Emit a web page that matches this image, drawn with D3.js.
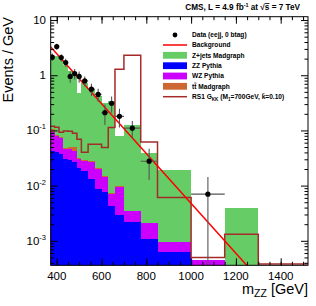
<!DOCTYPE html>
<html>
<head>
<meta charset="utf-8">
<script src="https://d3js.org/d3.v7.min.js"></script>
<style>
  body { margin: 0; background: #fff; }
  svg text { font-family: "Liberation Sans", Arial, Helvetica, sans-serif; fill: #000; }
</style>
</head>
<body>
<svg id="chart" width="316" height="306"></svg>
<script>
// histogram bin edges, GeV
var binEdges = [370, 390, 410, 430, 450, 470, 490, 510, 540, 570, 600, 630, 660, 700, 775, 850, 1000, 1150, 1300, 1520];

// MC backgrounds, events / GeV in each bin
var zzPythia = [0.0427, 0.0404, 0.0371, 0.0302, 0.029, 0.0263, 0.0207, 0.0183, 0.0131, 0.00865, 0.0076, 0.0043, 0.0029, 0.0022, 0.00108, 0.00062, 0.00031, 0.0002, 0];
var wzPythia = [0.0491, 0.0374, 0.0353, 0.0156, 0.0168, 0.0153, 0.0095, 0.0094, 0.0135, 0.0113, 0.0065, 0.0027, 0.0064, 0.0013, 0.001, 0.00035, 0.00013, 0.0001, 0];
var ttMadgraph = [0.013, 0.004, 0.004, 0.003, 0.004, 0.0088, 0.002, 0.002, 0.001, 0.001, 0.001, 0.0005, 0.0005, 0, 0, 0, 0, 0, 0];
var zjetsMadgraph = [2.015, 2.13, 1.79, 1.47, 1.15, 1.04, 0.454, 0.687, 0.53, 0.396, 0.296, 0.335, 0.069, 0.121, 0.0368, 0.0183, 0, 0.0036, 0];

// RS1 graviton signal
var rs1Signal = [0.119, 0.1145, 0.093, 0.098, 0.097, 0.089, 0.0695, 0.0404, 0.0564, 0.0564, 0.0491, 0.113, 1.284, 2.30, 0.062, 0.0061, 0.0005, 0.00132, 0.00038];

// data points
var dataMass  = [380, 400, 420, 440, 460, 480, 500, 525, 555, 585, 615, 645, 680, 737.5, 812.5, 1075];
var dataLo    = [370, 390, 410, 430, 450, 470, 490, 510, 540, 570, 600, 630, 660, 700, 775, 1000];
var dataHi    = [390, 410, 430, 450, 470, 490, 510, 540, 570, 600, 630, 660, 700, 775, 850, 1150];
var dataVal   = [2.14, 3.31, 2.09, 1.70, 0.95, 1.07, 0.95, 0.79, 0.56, 0.45, 0.21, 0.31, 0.18, 0.11, 0.0277, 0.0070];
var dataErrUp = [0.33, 0.41, 0.32, 0.29, 0.22, 0.23, 0.22, 0.16, 0.14, 0.12, 0.084, 0.10, 0.067, 0.038, 0.019, 0.0073];
var dataErrDn = [0.33, 0.41, 0.32, 0.29, 0.22, 0.23, 0.22, 0.16, 0.14, 0.12, 0.084, 0.10, 0.067, 0.038, 0.015, 0.0070];

// background fit line (end points)
var bgMass = [373, 1300];
var bgVal = [3.25, 0.00021];

var xTickVals = [400, 600, 800, 1000, 1200, 1400];
var yTickVals = [1e-3, 1e-2, 1e-1, 1, 10];
var yTickExp = ["-3", "-2", "-1", "", ""];

var svg = d3.select("#chart");
var pLeft = 50.7, pRight = 308, pTop = 16.7, pBottom = 265.3;

var x = d3.scaleLinear().domain([373, 1522]).range([pLeft, pRight]);
var y = d3.scaleLog().domain([3.6e-4, 11.5]).range([pBottom, pTop]);

function yc(v) { return v > 0 ? y(v) : pBottom + 5; }

svg.append("clipPath").attr("id", "plotclip")
  .append("rect").attr("x", pLeft).attr("y", pTop)
  .attr("width", pRight - pLeft).attr("height", pBottom - pTop);

var plot = svg.append("g").attr("clip-path", "url(#plotclip)");

// stacked backgrounds
var rows = binEdges.slice(0, -1).map(function(lo, i) {
  return { lo: lo, hi: binEdges[i + 1], zz: zzPythia[i], wz: wzPythia[i], tt: ttMadgraph[i], zjets: zjetsMadgraph[i] };
});
var keys = ["zz", "wz", "tt", "zjets"];
var colors = { zz: "#0000ff", wz: "#cc00ff", tt: "#cc6633", zjets: "#66cc66" };
var layers = d3.stack().keys(keys)(rows);

layers.slice().reverse().forEach(function(layer) {
  plot.append("g").selectAll("rect")
    .data(layer.filter(function(d) { return d[1] > 0; }))
    .enter().append("rect")
      .attr("x", function(d) { return x(d.data.lo); })
      .attr("width", function(d) { return x(d.data.hi) - x(d.data.lo); })
      .attr("y", function(d) { return y(d[1]); })
      .attr("height", function(d) { return Math.max(0, pBottom + 5 - y(d[1])); })
      .attr("fill", colors[layer.key])
      .attr("shape-rendering", "crispEdges");
});

// signal outline
var rsPts = [];
rs1Signal.forEach(function(v, i) {
  rsPts.push([x(binEdges[i]), yc(v)]);
  rsPts.push([x(binEdges[i + 1]), yc(v)]);
});
plot.append("path")
  .attr("d", d3.line()(rsPts))
  .attr("fill", "none")
  .attr("stroke", "#a52a2a")
  .attr("stroke-width", 1.5);

// background line
plot.append("path")
  .attr("d", d3.line()(bgMass.map(function(m, i) { return [x(m), y(bgVal[i])]; })))
  .attr("fill", "none")
  .attr("stroke", "#ff0000")
  .attr("stroke-width", 1.5);

// data with error bars
var pts = plot.append("g");
dataMass.forEach(function(m, i) {
  var lo = dataVal[i] - dataErrDn[i];
  pts.append("line")
    .attr("x1", x(m)).attr("x2", x(m))
    .attr("y1", y(dataVal[i] + dataErrUp[i]))
    .attr("y2", lo > 0 ? y(lo) : pBottom + 5)
    .attr("stroke", "#555").attr("stroke-width", 1.1);
  pts.append("line")
    .attr("x1", x(dataLo[i])).attr("x2", x(dataHi[i]))
    .attr("y1", y(dataVal[i])).attr("y2", y(dataVal[i]))
    .attr("stroke", "#555").attr("stroke-width", 1.1);
  pts.append("circle")
    .attr("cx", x(m)).attr("cy", y(dataVal[i])).attr("r", 2.6)
    .attr("fill", "#000");
});

// frame
svg.append("rect")
  .attr("x", pLeft).attr("y", pTop)
  .attr("width", pRight - pLeft).attr("height", pBottom - pTop)
  .attr("fill", "none").attr("stroke", "#000").attr("stroke-width", 1);

// ticks (inside, all four sides)
var xMinor = d3.range(400, 1521, 50);
var yMinor = [];
[-4, -3, -2, -1, 0, 1].forEach(function(e) {
  for (var k = 2; k <= 9; k++) {
    var v = k * Math.pow(10, e);
    if (v > 3.6e-4 && v < 11.5) yMinor.push(v);
  }
});

function tickAxis(axis, transform) {
  var g = svg.append("g").attr("transform", transform).call(axis);
  g.select(".domain").remove();
  g.selectAll("text").remove();
  g.selectAll("line").attr("stroke", "#000");
}
tickAxis(d3.axisBottom(x).tickValues(xMinor).tickSize(-3.5), "translate(0," + pBottom + ")");
tickAxis(d3.axisBottom(x).tickValues(xTickVals).tickSize(-7), "translate(0," + pBottom + ")");
tickAxis(d3.axisTop(x).tickValues(xMinor).tickSize(-3.5), "translate(0," + pTop + ")");
tickAxis(d3.axisTop(x).tickValues(xTickVals).tickSize(-7), "translate(0," + pTop + ")");
tickAxis(d3.axisLeft(y).tickValues(yMinor).tickSize(-3.5), "translate(" + pLeft + ",0)");
tickAxis(d3.axisLeft(y).tickValues(yTickVals).tickSize(-7), "translate(" + pLeft + ",0)");
tickAxis(d3.axisRight(y).tickValues(yMinor).tickSize(-3.5), "translate(" + pRight + ",0)");
tickAxis(d3.axisRight(y).tickValues(yTickVals).tickSize(-7), "translate(" + pRight + ",0)");

// tick labels
svg.append("g").selectAll("text")
  .data(xTickVals).enter().append("text")
    .attr("x", function(d) { return x(d); })
    .attr("y", 280)
    .attr("text-anchor", "middle")
    .attr("font-size", 11.5)
    .text(function(d) { return d; });

yTickVals.forEach(function(v, i) {
  var t = svg.append("text")
    .attr("x", 46).attr("y", y(v) + 4)
    .attr("text-anchor", "end")
    .attr("font-size", 11.5);
  if (yTickExp[i] === "") {
    t.text(v === 1 ? "1" : "10");
  } else {
    t.append("tspan").text("10");
    t.append("tspan").attr("font-size", 7.5).attr("dy", -5).text(yTickExp[i]);
  }
});

// axis titles
var xt = svg.append("text")
  .attr("x", 308).attr("y", 294)
  .attr("text-anchor", "end")
  .attr("font-size", 14.5);
xt.append("tspan").text("m");
xt.append("tspan").attr("font-size", 10.5).attr("dy", 3).text("ZZ");
xt.append("tspan").attr("dy", -3).text(" [GeV]");

svg.append("text")
  .attr("transform", "translate(13,17) rotate(-90)")
  .attr("text-anchor", "end")
  .attr("font-size", 14.5)
  .text("Events / GeV");

// title
var title = svg.append("text")
  .attr("x", 300).attr("y", 10)
  .attr("text-anchor", "end")
  .attr("font-size", 8.2)
  .attr("font-weight", "bold");
title.append("tspan").text("CMS, L = 4.9 fb");
title.append("tspan").attr("font-size", 5.5).attr("dy", -3).text("-1");
title.append("tspan").attr("dy", 3).text(" at \u221A");
title.append("tspan").style("text-decoration", "overline").text("s");
title.append("tspan").text(" = 7 TeV");

// legend
var legY = [35, 45, 55.3, 65.7, 76, 86.3, 96.7];
var legText = ["Data (eejj, 0 btag)", "Background", "Z+jets Madgraph", "ZZ Pythia", "WZ Pythia", "t", "RS1"];
var legKind = ["point", "line", "box", "box", "box", "box", "line"];
var legColor = ["#000", "#ff0000", colors.zjets, colors.zz, colors.wz, colors.tt, "#a52a2a"];
var leg = svg.append("g");
legY.forEach(function(ly, i) {
  if (legKind[i] === "point") {
    leg.append("circle").attr("cx", 175).attr("cy", ly).attr("r", 2.4).attr("fill", "#000");
  } else if (legKind[i] === "line") {
    leg.append("line").attr("x1", 163).attr("x2", 187).attr("y1", ly).attr("y2", ly)
      .attr("stroke", legColor[i]).attr("stroke-width", 1.5);
  } else {
    leg.append("rect").attr("x", 163).attr("y", ly - 3.4).attr("width", 24).attr("height", 6.8)
      .attr("fill", legColor[i]);
  }
  var t = leg.append("text").attr("x", 192).attr("y", ly + 2.4)
    .attr("font-size", 6.6).attr("font-weight", "bold");
  if (i === 6) {
    t.append("tspan").text("RS1 G");
    t.append("tspan").attr("font-size", 4.6).attr("dy", 1.8).text("KK");
    t.append("tspan").attr("dy", -1.8).text(" (M");
    t.append("tspan").attr("font-size", 4.6).attr("dy", 1.8).text("1");
    t.append("tspan").attr("dy", -1.8).text("=700GeV, k\u0303=0.10)");
  } else if (i === 5) {
    t.append("tspan").text("t");
    t.append("tspan").style("text-decoration", "overline").text("t");
    t.append("tspan").text(" Madgraph");
  } else {
    t.text(legText[i]);
  }
});
</script>
</body>
</html>
